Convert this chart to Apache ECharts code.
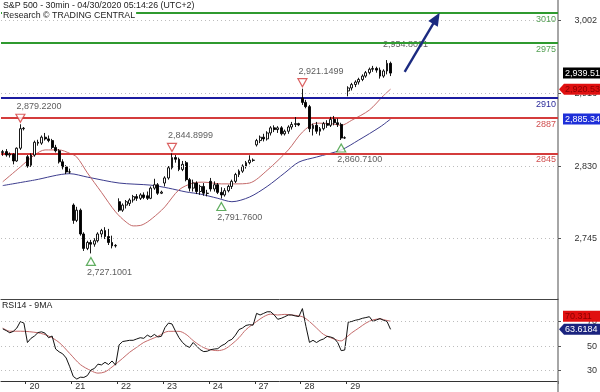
<!DOCTYPE html>
<html><head><meta charset="utf-8">
<script src="https://cdn.jsdelivr.net/npm/echarts@6/dist/echarts.min.js"></script>
<style>html,body{margin:0;padding:0;background:#fff}#c{width:600px;height:392px}</style>
</head><body><div id="c"></div>
<script>
// ---------------- DATA ----------------
const days = ['17','20','21','22','23','24','27','28','29'];
const sessionTimes = ['09:30','10:00','10:30','11:00','11:30','12:00','12:30','13:00','13:30','14:00','14:30','15:00','15:30'];
// 30-min bars per day: [open, high, low, close]
const apr17 = [[2846,2849,2842,2847],[2847,2850,2841,2843],[2843,2846,2840,2844],[2844,2845,2832,2836],[2836,2852,2835,2851],[2851,2879.22,2849,2874],[2874,2876,2872,2874.56]];
const apr20 = [[2841,2843,2828,2830],[2831,2845,2829,2843],[2843,2860,2841,2858],[2858,2861,2854,2857],[2857,2866,2855,2864],[2864,2869,2860,2862],[2862,2866,2858,2860],[2860,2862,2850,2852],[2852,2855,2846,2848],[2848,2850,2833,2835],[2835,2838,2826,2829],[2829,2831,2820.5,2823],[2823,2827,2821,2823.16]];
const apr21 = [[2784,2786,2762,2766],[2766,2782,2764,2778],[2778,2780,2748,2750],[2750,2752,2730,2733],[2733,2742,2731,2740],[2740,2743,2727.1,2738],[2738,2745,2735,2742],[2742,2752,2740,2750],[2750,2756,2746,2754],[2754,2758,2744,2747],[2747,2756,2737,2740],[2740,2748,2733,2736],[2736,2738,2734,2736.56]];
const apr22 = [[2788,2792,2776,2778],[2778,2786,2776,2784],[2784,2790,2780,2788],[2786,2792,2783,2790],[2790,2796,2787,2794],[2794,2797,2789,2792],[2792,2798,2790,2796],[2796,2799,2791,2793],[2795,2800,2790,2792],[2792,2806,2791,2804],[2804,2815,2802,2808],[2808,2810,2796,2798],[2798,2801,2797,2799.31]];
const apr23 = [[2810,2818,2806,2816],[2816,2830,2814,2828],[2828,2844.9,2826,2840],[2840,2843,2834,2838],[2838,2840,2824,2826],[2826,2836,2824,2832],[2834,2836,2812,2814],[2814,2816,2800,2804],[2804,2814,2800,2810],[2810,2812,2797,2800],[2800,2808,2796,2806],[2806,2810,2795,2798],[2798,2802,2794.3,2797.8]];
const apr24 = [[2812,2816,2800,2803],[2803,2812,2800,2808],[2808,2810,2797,2799],[2799,2805,2791.76,2796],[2796,2804,2794,2801],[2801,2808,2799,2806],[2806,2814,2803,2812],[2812,2822,2810,2820],[2820,2826,2817,2824],[2824,2832,2822,2830],[2830,2836,2827,2834],[2834,2842.7,2832,2837],[2837,2839,2835,2836.74]];
const apr27 = [[2855,2862,2853,2860],[2860,2866,2857,2864],[2864,2868,2859,2862],[2862,2871,2860,2869],[2869,2877,2866,2875],[2875,2878,2870,2873],[2873,2877,2869,2875],[2875,2877,2866,2868],[2868,2873,2866,2871],[2871,2878,2868,2876],[2876,2882,2873,2879],[2879,2887.7,2876,2880],[2880,2881,2877,2878.48]];
const apr28 = [[2910,2921.15,2902,2905],[2905,2908,2898,2900],[2900,2902,2870,2874],[2874,2880,2866,2878],[2878,2882,2868,2871],[2871,2876,2866,2874],[2874,2882,2872,2880],[2880,2884,2875,2878],[2878,2888,2876,2885],[2885,2889,2878,2881],[2881,2886,2876,2879],[2879,2881,2860.71,2863],[2863,2865,2862,2863.39]];
const apr29 = [[2918.5,2924,2912.16,2922],[2922,2928,2919,2926],[2926,2931,2923,2929],[2929,2934,2926,2932],[2932,2938,2930,2936],[2936,2942,2934,2940],[2940,2946,2938,2944],[2944,2948,2941,2945],[2945,2947,2940,2943],[2943,2946,2933,2936],[2936,2944,2934,2942],[2942,2954.86,2938,2951],[2951,2953,2936,2939.51]];
const barsByDay = [apr17, apr20, apr21, apr22, apr23, apr24, apr27, apr28, apr29];
const futureSlots = 47;

// moving averages on price: [bar index, value]
const redMA = [[0,2811.5],[5,2829],[9,2843],[12,2849],[16,2849],[19,2845],[21,2840.6],[24,2822],[28,2799],[32,2776],[35,2764],[37,2759.5],[39,2760],[41,2764],[44,2774],[46,2782],[50,2802],[54,2810],[57,2811],[62,2809],[66,2809],[70,2810],[75,2825],[81,2849],[85,2870],[89,2880.5],[93,2880],[96,2878],[99,2884],[104,2896],[108,2913],[110,2920.53]];
const blueMA = [[0,2807],[9,2813.5],[19,2821],[24,2817],[33,2810],[42,2807.5],[47,2804],[52,2799.5],[56,2797],[61,2792],[65,2788],[70,2793.5],[75,2806],[80,2822],[84,2834.7],[89,2840.6],[96,2849],[101,2860.7],[107,2876],[110,2885.34]];

// RSI(14) per bar and its 9MA
const rsi = [64,62.6,60.8,62,64.7,70,68.7,
 52.9,56.3,58.2,61,61.6,60.5,56.8,58.2,47.6,45.3,43.7,40.3,33.2,
 25.3,23.2,24.7,24.5,26,30.5,31.8,35.3,34.7,36.8,35,37.9,34.5,
 51,53.7,54.2,54.7,54.7,55.8,56.8,56.3,58.9,57.4,59.5,57.4,58,
 65,68.7,68,62.1,56.8,52.9,50.3,48.9,52.9,50,47.1,45.5,45.8,
 47.1,47.6,47.9,50.3,51.6,54.2,55.5,58.9,63.4,64.7,66.8,67.4,67,
 76.6,75.3,76.6,77.9,77.9,75.3,71.8,72.6,73.9,75.3,75.3,74.5,74,
 80.5,66,53,54.7,52.9,54.7,55.8,57.9,57.4,56.3,52.9,46.3,46.8,
 69.5,70,71,71.6,72.6,73.2,73.9,70,71.3,72.4,71,70,63.6184];
const rsiMA = [[0,64.7],[2,62.1],[5,62.1],[10,60.8],[13,58.2],[16,52.9],[19,44],[22,35],[25,30],[27,28],[29,29],[31,33],[34,40],[36,45],[38,49],[40,53],[42,55.5],[44,58],[47,62],[50,62],[52,59.5],[54,54.5],[56,50.3],[58,47.6],[61,46.3],[63,47.6],[65,51.6],[67,56.8],[69,63.4],[72,70],[74,73.9],[76,76],[78,75.3],[80,75.8],[82,75.3],[85,73.9],[87,70],[89,64.7],[91,59.5],[93,56.8],[95,54.7],[96,54.2],[97,56],[99,60.8],[101,64.7],[103,68.7],[105,71.3],[107,72.1],[109,70.8],[110,70.311]];

// annotations
const highMarks = [[5,2879.2200],[48,2844.8999],[85,2921.1499]];
const lowMarks = [[25,2727.1001],[62,2791.7600],[96,2860.7100]];
const targetText = [[109,2954.8091]];
const arrowFrom = [114,2941];
const arrowTo = [123,3004];
const resistLevels = [3010,2975];
const pivotLevel = [2910];
const supportLevels = [2887,2845];

// axes
const priceTicks = [2745,2830,2916,3002];
const rsiTicks = [30,50,70];
const priceRange = [2673.4,3025.6];
const rsiRange = [21.6,88.3];
const titleLine1 = 'S&P 500 - 30min - 04/30/2020 05:14:26 (UTC+2)';
const titleLine2 = 'Research © TRADING CENTRAL';
const rsiTitle = 'RSI14 - 9MA';

// ---------------- BUILD ----------------
const categories = [], candles = [];
barsByDay.forEach((bars, d) => {
  const times = sessionTimes.slice(sessionTimes.length - bars.length);
  bars.forEach((b, k) => {
    categories.push('04/' + days[d] + ' ' + times[k]);
    candles.push([b[0], b[3], b[2], b[1]]);
  });
});
for (let i = 0; i < futureSlots; i++) categories.push('+' + (i + 1));

const FONT = 'Liberation Sans, Arial, sans-serif';
const fmt4 = v => v.toLocaleString('en-US', {minimumFractionDigits: 4, maximumFractionDigits: 4});
const fmt2 = v => v.toLocaleString('en-US', {minimumFractionDigits: 2, maximumFractionDigits: 2});
const dayStart = (i, v) => typeof v === 'string' && v.endsWith('09:30');

const GREEN = '#2f9a2f', BLUE = '#1c1ca0', RED = '#d43c3c';
function levelLine(v, color, textColor) {
  return {yAxis: v, lineStyle: {color: color, width: 1.8, type: 'solid'},
    label: {show: true, position: 'insideEndBottom', distance: 2, formatter: String(v), color: textColor, fontSize: 9, fontFamily: FONT}};
}

const chart = echarts.init(document.getElementById('c'), null, {renderer: 'canvas'});
chart.setOption({
  animation: false,
  backgroundColor: '#fff',
  title: [
    {text: titleLine1, left: 2, top: 1, padding: [0, 1], backgroundColor: '#fff', textStyle: {fontSize: 8.8, fontWeight: 'normal', color: '#222', fontFamily: FONT}},
    {text: titleLine2, left: 2, top: 11, padding: [0, 1], backgroundColor: '#fff', textStyle: {fontSize: 8.8, fontWeight: 'normal', color: '#222', fontFamily: FONT}},
    {text: rsiTitle, left: 2, top: 301, padding: 0, textStyle: {fontSize: 8.8, fontWeight: 'normal', color: '#222', fontFamily: FONT}}
  ],
  grid: [
    {left: 1, right: 42, top: 0, height: 299},
    {left: 1, right: 42, top: 299, height: 82}
  ],
  xAxis: [
    {type: 'category', gridIndex: 0, data: categories, boundaryGap: true,
      axisLine: {show: true, lineStyle: {color: '#444', width: 1}}, axisTick: {show: false}, axisLabel: {show: false}, splitLine: {show: false}},
    {type: 'category', gridIndex: 1, data: categories, boundaryGap: true,
      axisLine: {show: true, lineStyle: {color: '#333', width: 1}},
      axisTick: {show: true, interval: dayStart, length: 3, lineStyle: {color: '#333'}},
      axisLabel: {show: true, interval: dayStart, formatter: v => v.slice(3, 5), align: 'left', margin: 1, padding: [0, 0, 0, 2], fontSize: 9, color: '#333', fontFamily: FONT},
      splitLine: {show: false}}
  ],
  yAxis: [
    {type: 'value', gridIndex: 0, position: 'right', min: priceRange[0], max: priceRange[1],
      axisLine: {show: true, lineStyle: {color: '#888', width: 1.5}},
      axisTick: {show: true, customValues: priceTicks, length: 3, lineStyle: {color: '#555'}},
      axisLabel: {show: true, customValues: priceTicks, formatter: v => Math.round(v).toLocaleString('en-US'), align: 'right', margin: 39, fontSize: 9, color: '#333', fontFamily: FONT},
      splitLine: {show: false}},
    {type: 'value', gridIndex: 1, position: 'right', min: rsiRange[0], max: rsiRange[1],
      axisLine: {show: true, lineStyle: {color: '#888', width: 1.5}},
      axisTick: {show: true, customValues: rsiTicks, length: 3, lineStyle: {color: '#555'}},
      axisLabel: {show: true, customValues: rsiTicks, formatter: v => String(Math.round(v)), align: 'right', margin: 39, fontSize: 9, color: '#333', fontFamily: FONT},
      splitLine: {show: false}}
  ],
  series: [
    {type: 'line', name: 'MA slow', xAxisIndex: 0, yAxisIndex: 0, data: blueMA, showSymbol: false, smooth: 0.3, z: 2,
      lineStyle: {color: '#3d3d8e', width: 1},
      markLine: {silent: true, symbol: 'none', label: {show: false}, lineStyle: {color: '#bdbdbd', type: [1, 3], width: 1},
        data: priceTicks.map(v => ({yAxis: v}))}},
    {type: 'line', name: 'MA fast', xAxisIndex: 0, yAxisIndex: 0, data: redMA, showSymbol: false, smooth: 0.3, z: 2,
      lineStyle: {color: '#c46a6a', width: 1}},
    {type: 'candlestick', name: 'S&P 500', xAxisIndex: 0, yAxisIndex: 0, data: candles, barWidth: 2.4, z: 4,
      itemStyle: {color: '#fff', color0: '#000', borderColor: '#000', borderColor0: '#000', borderWidth: 0.9},
      markLine: {silent: true, symbol: 'none', z: 3,
        data: resistLevels.map(v => levelLine(v, GREEN, '#55a055'))
          .concat(pivotLevel.map(v => levelLine(v, BLUE, '#2a2a9a')))
          .concat(supportLevels.map(v => levelLine(v, RED, '#d05050')))}},
    {type: 'scatter', name: 'highs', xAxisIndex: 0, yAxisIndex: 0, data: highMarks, z: 5,
      symbol: 'triangle', symbolRotate: 180, symbolSize: [9, 8], symbolOffset: [0, -6],
      itemStyle: {color: '#fff', borderColor: '#d23a3a', borderWidth: 1.2},
      label: {show: true, position: 'top', distance: 2.5, align: 'left', offset: [-4, 0], formatter: p => fmt4(p.value[1]), fontSize: 9, color: '#333', fontFamily: FONT}},
    {type: 'scatter', name: 'lows', xAxisIndex: 0, yAxisIndex: 0, data: lowMarks, z: 5,
      symbol: 'triangle', symbolSize: [9, 8], symbolOffset: [0, 8],
      itemStyle: {color: '#fff', borderColor: '#3a9a3a', borderWidth: 1.2},
      label: {show: true, position: 'bottom', distance: 2, align: 'left', offset: [-4, 0], formatter: p => fmt4(p.value[1]), fontSize: 9, color: '#333', fontFamily: FONT}},
    {type: 'scatter', name: 'target', xAxisIndex: 0, yAxisIndex: 0, data: targetText, z: 1,
      symbol: 'circle', symbolSize: 0,
      label: {show: true, position: 'top', distance: 11.5, align: 'left', offset: [-4, 0], formatter: p => fmt4(p.value[1]), fontSize: 9, color: '#333', fontFamily: FONT},
      markLine: {silent: true, symbol: ['none', 'triangle'], symbolSize: [11, 13], z: 6,
        lineStyle: {color: '#1b2a80', width: 2.4, type: 'solid'}, label: {show: false},
        data: [[{coord: arrowFrom}, {coord: arrowTo}]]}},
    {type: 'line', name: 'RSI14', xAxisIndex: 1, yAxisIndex: 1, data: rsi, showSymbol: false, z: 3,
      lineStyle: {color: '#111', width: 1},
      markLine: {silent: true, symbol: 'none', label: {show: false}, lineStyle: {color: '#bdbdbd', type: [1, 3], width: 1},
        data: rsiTicks.map(v => ({yAxis: v}))}},
    {type: 'line', name: '9MA', xAxisIndex: 1, yAxisIndex: 1, data: rsiMA, showSymbol: false, smooth: 0.3, z: 2,
      lineStyle: {color: '#c46a6a', width: 1}}
  ]
});

// ---------- value tags on the right axis (positions from the library's scales) ----------
const lastIdx = candles.length - 1;
const tags = [
  {axis: 0, value: candles[lastIdx][1], text: fmt2(candles[lastIdx][1]), bg: '#000', fg: '#fff', arrow: false},
  {axis: 0, value: redMA[redMA.length - 1][1], text: fmt2(redMA[redMA.length - 1][1]), bg: '#e01010', fg: '#8a0000', arrow: true},
  {axis: 0, value: blueMA[blueMA.length - 1][1], text: fmt2(blueMA[blueMA.length - 1][1]), bg: '#1e2fd8', fg: '#fff', arrow: false},
  {axis: 1, value: rsiMA[rsiMA.length - 1][1], text: String(rsiMA[rsiMA.length - 1][1]), bg: '#e01010', fg: '#8a0000', arrow: false},
  {axis: 1, value: rsi[rsi.length - 1], text: String(rsi[rsi.length - 1]), bg: '#1a237e', fg: '#fff', arrow: true}
];
tags.forEach(t => { t.y = chart.convertToPixel({yAxisIndex: t.axis}, t.value); });
// avoid overlap inside each axis: push upper tag up
[0, 1].forEach(ax => {
  const list = tags.filter(t => t.axis === ax).sort((a, b) => b.y - a.y);
  for (let i = 1; i < list.length; i++) {
    if (list[i - 1].y - list[i].y < 13) list[i].y = list[i - 1].y - 13;
  }
});
const axisX = chart.convertToPixel({xAxisIndex: 0}, categories.length - 1) + 557 / categories.length / 2;
const graphics = [];
tags.forEach(t => {
  const y = t.y, h = 5.5;
  const pts = t.arrow
    ? [[axisX + 1, y], [axisX + 6, y - h], [600, y - h], [600, y + h], [axisX + 6, y + h]]
    : [[axisX + 5, y - h], [600, y - h], [600, y + h], [axisX + 5, y + h]];
  graphics.push({type: 'polygon', z: 100, shape: {points: pts}, style: {fill: t.bg}});
  graphics.push({type: 'text', z: 101, style: {text: t.text, x: axisX + 7, y: y, fill: t.fg, fontSize: 9, fontFamily: FONT, verticalAlign: 'middle', align: 'left'}});
});
const bottomY = chart.convertToPixel({yAxisIndex: 1}, rsiRange[0]);
graphics.push({type: 'line', z: 100, shape: {x1: axisX, y1: bottomY, x2: axisX, y2: 392}, style: {stroke: '#888', lineWidth: 1.5}});
chart.setOption({graphic: graphics});
</script>
</body></html>
